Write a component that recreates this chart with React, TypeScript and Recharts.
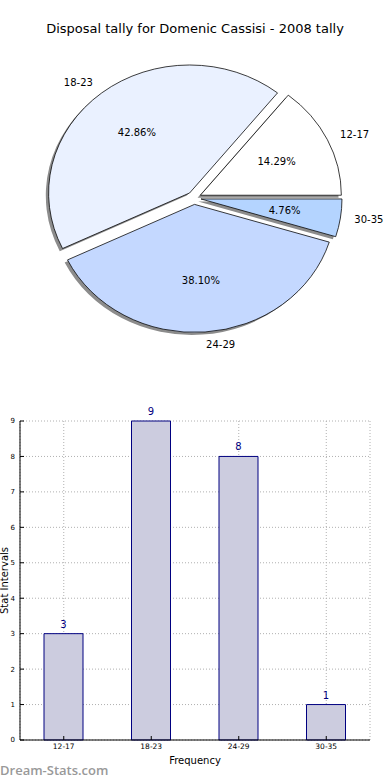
import React from 'react';
import {
  PieChart,
  Pie,
  Cell,
  BarChart,
  Bar,
  XAxis,
  YAxis,
  CartesianGrid,
  LabelList,
} from 'recharts';

// age ranges and disposal counts
const categories = ['12-17', '18-23', '24-29', '30-35'];
const counts = [3, 9, 8, 1];
const yTicks = [0, 1, 2, 3, 4, 5, 6, 7, 8, 9];

const SLICE_COLORS = ['#ffffff', '#eaf1ff', '#c4d8ff', '#b4d4ff'];
const FONT = '"DejaVu Sans", sans-serif';

// pie geometry - the original is slightly squashed, so draw it as an ellipse
const CX = 194;
const CY = 198;
const RX = 141;
const RY = 128;
const EXPLODE = 0.05;

const chartData = categories.map((range, i) => ({ range, count: counts[i] }));

const total = counts.reduce((a, b) => a + b, 0);
const midAngles = counts.map((c, i) => {
  const before = counts.slice(0, i).reduce((a, b) => a + b, 0);
  return ((before + c / 2) / total) * 360;
});

function sliceTransform(mid: number, shadow: boolean) {
  const rad = (mid * Math.PI) / 180;
  let dx = EXPLODE * RX * Math.cos(rad);
  let dy = -EXPLODE * RY * Math.sin(rad);
  if (shadow) {
    dx -= 2.8;
    dy += 2.6;
  }
  return `translate(${CX + dx} ${CY + dy}) scale(1 ${RY / RX}) translate(${-CX} ${-CY})`;
}

const renderPieLabel = (props: any) => {
  const { midAngle, index, percent } = props;
  const rad = (midAngle * Math.PI) / 180;
  const ux = RX * Math.cos(rad);
  const uy = -RY * Math.sin(rad);
  const lx = CX + (1.1 + EXPLODE) * ux;
  const ly = CY + (1.1 + EXPLODE) * uy;
  const px = CX + (0.6 + EXPLODE) * ux;
  const py = CY + (0.6 + EXPLODE) * uy;
  return (
    <g>
      <text
        x={lx}
        y={ly}
        textAnchor={ux > 0 ? 'start' : 'end'}
        dominantBaseline="central"
        fontSize={10}
        fill="#000"
      >
        {categories[index]}
      </text>
      <text x={px} y={py} textAnchor="middle" dominantBaseline="central" fontSize={10} fill="#000">
        {(percent * 100).toFixed(2)}%
      </text>
    </g>
  );
};

export default function App() {
  return (
    <div
      style={{
        position: 'absolute',
        left: 0,
        top: 0,
        width: 390,
        height: 780,
        background: '#fff',
        fontFamily: FONT,
      }}
    >
      <div
        style={{
          position: 'absolute',
          top: 21,
          left: 0,
          width: 390,
          textAlign: 'center',
          fontSize: 13,
          lineHeight: '16px',
          color: '#000',
        }}
      >
        Disposal tally for Domenic Cassisi - 2008 tally
      </div>

      <div style={{ position: 'absolute', top: 0, left: 0 }}>
        <PieChart width={390} height={390} margin={{ top: 0, right: 0, bottom: 0, left: 0 }}>
          {/* shadows first */}
          <Pie
            data={chartData}
            dataKey="count"
            nameKey="range"
            cx={CX}
            cy={CY}
            outerRadius={RX}
            startAngle={0}
            endAngle={360}
            stroke="none"
            isAnimationActive={false}
          >
            {chartData.map((_, i) => (
              <Cell key={`sh-${i}`} fill="#8c8c8c" transform={sliceTransform(midAngles[i], true)} />
            ))}
          </Pie>
          <Pie
            data={chartData}
            dataKey="count"
            nameKey="range"
            cx={CX}
            cy={CY}
            outerRadius={RX}
            startAngle={0}
            endAngle={360}
            stroke="#000"
            strokeWidth={0.8}
            label={renderPieLabel}
            labelLine={false}
            isAnimationActive={false}
          >
            {chartData.map((_, i) => (
              <Cell key={`cell-${i}`} fill={SLICE_COLORS[i]} transform={sliceTransform(midAngles[i], false)} />
            ))}
          </Pie>
        </PieChart>
      </div>

      <div style={{ position: 'absolute', top: 390, left: 0 }}>
        <BarChart
          width={390}
          height={390}
          data={chartData}
          margin={{ top: 31, right: 20, bottom: 0, left: 0 }}
        >
          <CartesianGrid stroke="#b0b0b0" strokeDasharray="1 2" />
          <XAxis
            dataKey="range"
            height={40}
            tickSize={-4}
            tickMargin={8}
            tick={{ fontSize: 7.5, fill: '#000' }}
            axisLine={{ stroke: '#000' }}
            tickLine={{ stroke: '#000' }}
            label={{ value: 'Frequency', position: 'insideBottom', offset: 16, fontSize: 10, fill: '#000' }}
          />
          <XAxis
            xAxisId="top"
            dataKey="range"
            orientation="top"
            height={0}
            tickSize={-4}
            tick={false}
            axisLine={{ stroke: '#000' }}
            tickLine={{ stroke: '#000' }}
          />
          <YAxis
            domain={[0, 9]}
            ticks={yTicks}
            interval={0}
            width={20}
            tickSize={-4}
            tickMargin={9}
            tick={{ fontSize: 7, fill: '#000' }}
            axisLine={{ stroke: '#000' }}
            tickLine={{ stroke: '#000' }}
            label={{
              value: 'Stat Intervals',
              angle: -90,
              position: 'insideLeft',
              offset: 4,
              fontSize: 10,
              fill: '#000',
              style: { textAnchor: 'middle' },
            }}
          />
          <YAxis
            yAxisId="right"
            orientation="right"
            domain={[0, 9]}
            ticks={yTicks}
            interval={0}
            allowDataOverflow
            width={0}
            tickSize={-4}
            tick={false}
            axisLine={{ stroke: '#000' }}
            tickLine={{ stroke: '#000' }}
          />
          <Bar dataKey="count" barSize={39} fill="#ccccdf" stroke="#000080" strokeWidth={1} isAnimationActive={false}>
            <LabelList dataKey="count" position="top" offset={6} fill="#000080" fontSize={10} />
          </Bar>
        </BarChart>
      </div>

      <div
        style={{
          position: 'absolute',
          left: 0,
          top: 761,
          fontFamily: '"Open Sans", sans-serif',
          fontWeight: 600,
          fontSize: 13,
          lineHeight: '18px',
          color: '#999',
        }}
      >
        Dream-Stats.com
      </div>
    </div>
  );
}
